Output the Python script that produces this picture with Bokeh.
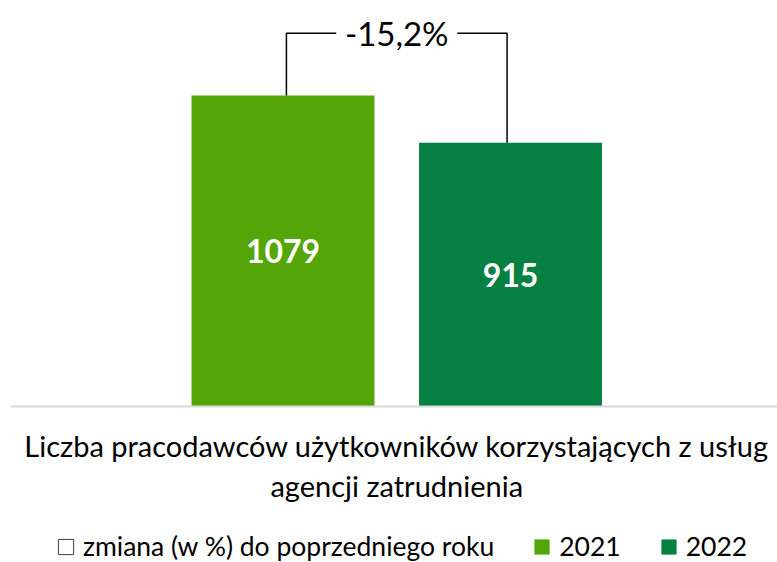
from bokeh.plotting import figure
from bokeh.models import Range1d, Legend, LegendItem, FixedTicker, ColumnDataSource
from bokeh.core.properties import value
from bokeh.embed import file_html
from bokeh.resources import INLINE

categories = ["2021", "2022"]
values = [1079, 915]
bar_colors = ["#54A507", "#057F42"]
change_label = "zmiana (w %) do poprzedniego roku"
title_lines = ["Liczba pracodawców użytkowników korzystających z usług", "agencji zatrudnienia"]

FONT = "Lato"

xs = list(range(len(categories)))
change = (values[1] - values[0]) / values[0] * 100
change_text = f"{change:.1f}%".replace(".", ",")

p = figure(frame_width=767, frame_height=562, output_backend="svg", toolbar_location=None,
           x_range=Range1d(-1.1978, 2.1736), y_range=Range1d(-541.2, 1408.6),
           y_axis_location=None, min_border_left=10, min_border_right=0, min_border_top=0,
           min_border_bottom=0)
p.outline_line_color = None
p.grid.visible = False
p.background_fill_color = "white"
p.border_fill_color = "white"

ax = p.xaxis[0]
ax.fixed_location = 0
ax.ticker = FixedTicker(ticks=[])
ax.major_label_text_font_size = "0px"
ax.major_label_standoff = 0
ax.major_tick_out = 0
ax.major_tick_in = 0
ax.minor_tick_out = 0
ax.axis_line_color = "#D9D9D9"
ax.axis_line_width = 2

src = ColumnDataSource(dict(x=xs, top=values, color=bar_colors, cat=categories,
                            mid=[v / 2 for v in values], lab=[str(v) for v in values]))
bar_renderers = []
for i in xs:
    r = p.vbar(x=[xs[i]], top=[values[i]], width=0.804, fill_color=bar_colors[i], line_color=None)
    bar_renderers.append(r)

p.text(x="x", y="mid", text="lab", source=src, text_align="center", text_baseline="middle",
       text_color="white", text_font=value(FONT), text_font_style="bold", text_font_size="32px")

# bracket
top = max(values) * 1.2
mid = (xs[0] + xs[1]) / 2
gap = 0.266
inset = 0.015
p.line(x=[xs[0] + inset, xs[0] + inset, mid - gap], y=[values[0], top, top],
       line_color="black", line_width=1.5)
p.line(x=[mid + gap, xs[1] - inset, xs[1] - inset], y=[top, top, values[1]],
       line_color="black", line_width=1.5)
p.text(x=[mid], y=[top], text=[change_text], text_align="center", text_baseline="middle",
       text_color="black", text_font=value(FONT), text_font_size="33px")

# category title under the axis (two lines)
p.text(x=[mid, mid], y=[0, 0], text=title_lines, y_offset=[39, 79],
       text_align="center", text_baseline="alphabetic", text_color="black",
       text_font=value(FONT), text_font_size="29px")

nan = float("nan")
dummy = p.vbar(x=[nan], top=[nan], width=0.8, fill_color="white", line_color="#404040", line_width=1)
items = [LegendItem(label=change_label, renderers=[dummy])]
for i, c in enumerate(categories):
    items.append(LegendItem(label=c, renderers=[bar_renderers[i]]))
legend = Legend(items=items, orientation="horizontal", location=(46, 0),
                label_text_font=FONT, label_text_font_size="26.5px", label_text_color="black",
                glyph_width=19, glyph_height=19, label_standoff=8, spacing=38,
                border_line_color=None, background_fill_alpha=0, padding=0, margin=0)
p.add_layout(legend, "center")

open("out.html", "w").write(file_html(p, INLINE))
